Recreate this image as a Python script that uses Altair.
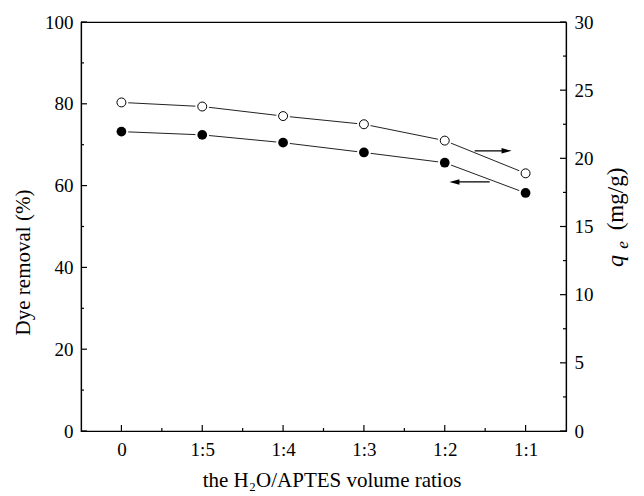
import altair as alt
import pandas as pd

# ---- data ----
categories = ["0", "1:5", "1:4", "1:3", "1:2", "1:1"]
positions = [0, 1, 2, 3, 4, 5]
dye_removal = [73.2, 72.4, 70.5, 68.1, 65.6, 58.2]      # left axis (%)
qe_values = [24.1, 23.8, 23.1, 22.5, 21.3, 18.9]        # right axis (mg/g)

# arrows pointing to each series' axis (in left-axis units)
arrow_tail_x = [4.37, 4.556]
arrow_head_x = [4.765, 4.12]
arrow_y = [68.5, 60.9]
arrow_shape = ["M -1 -0.55 L 1 0 L -1 0.55 Z", "M 1 -0.55 L -1 0 L 1 0.55 Z"]

x_minor = [0.5, 1.5, 2.5, 3.5, 4.5]
left_major = [0, 20, 40, 60, 80, 100]
left_minor = [10, 30, 50, 70, 90]
right_major = [0, 5, 10, 15, 20, 25, 30]
right_minor = [2.5, 7.5, 12.5, 17.5, 22.5, 27.5]

W, H = 485, 409
FONT = "Liberation Serif"
FS = 19
TFS = 21
MAJ, MIN = 6, 3

df = pd.DataFrame({"pos": positions, "cat": categories,
                   "removal": dye_removal, "qe": qe_values})
arrows = pd.DataFrame({"x0": arrow_tail_x, "x1": arrow_head_x, "y": arrow_y,
                       "shape": arrow_shape})

label_expr = ("datum.value % 1 === 0 ? " + str(categories) + "[datum.value] : ''")

xscale = alt.Scale(domain=[-0.5, 5.5], nice=False, zero=False)
yl_scale = alt.Scale(domain=[0, 100], nice=False)
yr_scale = alt.Scale(domain=[0, 30], nice=False)

common = dict(ticks=False, grid=False, domainColor="black", domainWidth=1.2,
              labelFont=FONT, labelFontSize=FS, labelColor="black",
              titleFont=FONT, titleFontSize=TFS, titleFontWeight="normal",
              titleColor="black")

x_axis = alt.Axis(values=positions, labelExpr=label_expr, labelPadding=9,
                  title="the H₂O/APTES volume ratios", titlePadding=10,
                  titleX=W / 2 + 8, **common)
yl_axis = alt.Axis(values=left_major, labelPadding=8,
                   title="Dye removal (%)", titlePadding=11, orient="left",
                   titleY=240, **common)
yr_axis = alt.Axis(values=right_major, labelPadding=8,
                   title="", orient="right", **common)


def X(field):
    return alt.X(field, scale=xscale, axis=x_axis, title="the H₂O/APTES volume ratios")


def YL(field):
    return alt.Y(field, scale=yl_scale, axis=yl_axis, title="Dye removal (%)")


def YR(field):
    return alt.Y(field, scale=yr_scale, axis=yr_axis, title="")


# ---- left series (filled) ----
l_line = alt.Chart(df).mark_line(color="#222", strokeWidth=1).encode(x=X("pos:Q"), y=YL("removal:Q"))
l_halo = alt.Chart(df).mark_point(shape="circle", filled=True, color="white",
                                  size=190, opacity=1).encode(x=X("pos:Q"), y=YL("removal:Q"))
l_pts = alt.Chart(df).mark_point(shape="circle", filled=True, color="black",
                                 size=95, opacity=1).encode(x=X("pos:Q"), y=YL("removal:Q"))

arr_rule = alt.Chart(arrows).mark_rule(color="black", strokeWidth=1.2).encode(
    x=X("x0:Q"), x2="x1:Q", y=YL("y:Q"))
arr_head = alt.Chart(arrows).mark_point(filled=True, color="black", size=100,
                                        opacity=1).encode(
    x=X("x1:Q"), y=YL("y:Q"),
    shape=alt.Shape("shape:N", scale=None, legend=None))

# ticks (inward) for left and bottom axes
lt_maj = alt.Chart(pd.DataFrame({"v": left_major})).mark_rule(color="black", strokeWidth=1.2).encode(
    y=YL("v:Q"), x=alt.value(0), x2=alt.value(MAJ))
lt_min = alt.Chart(pd.DataFrame({"v": left_minor})).mark_rule(color="black", strokeWidth=1.2).encode(
    y=YL("v:Q"), x=alt.value(0), x2=alt.value(MIN))
bt_maj = alt.Chart(pd.DataFrame({"v": positions})).mark_rule(color="black", strokeWidth=1.2).encode(
    x=X("v:Q"), y=alt.value(H), y2=alt.value(H - MAJ))
bt_min = alt.Chart(pd.DataFrame({"v": x_minor})).mark_rule(color="black", strokeWidth=1.2).encode(
    x=X("v:Q"), y=alt.value(H), y2=alt.value(H - MIN))

left = alt.layer(l_line, l_halo, l_pts, arr_rule, arr_head, lt_maj, lt_min, bt_maj, bt_min)

# ---- right series (open) ----
r_line = alt.Chart(df).mark_line(color="#222", strokeWidth=1).encode(x=X("pos:Q"), y=YR("qe:Q"))
r_halo = alt.Chart(df).mark_point(shape="circle", filled=True, color="white",
                                  size=190, opacity=1).encode(x=X("pos:Q"), y=YR("qe:Q"))
r_pts = alt.Chart(df).mark_point(shape="circle", filled=True, fill="white",
                                 stroke="black", strokeWidth=1, size=80,
                                 opacity=1).encode(x=X("pos:Q"), y=YR("qe:Q"))

rt_maj = alt.Chart(pd.DataFrame({"v": right_major})).mark_rule(color="black", strokeWidth=1.2).encode(
    y=YR("v:Q"), x=alt.value(W), x2=alt.value(W - MAJ))
rt_min = alt.Chart(pd.DataFrame({"v": right_minor})).mark_rule(color="black", strokeWidth=1.2).encode(
    y=YR("v:Q"), x=alt.value(W), x2=alt.value(W - MIN))

one = pd.DataFrame({"a": [0]})
t_q = alt.Chart(one).mark_text(angle=270, font=FONT, fontSize=24, fontStyle="italic",
                               align="center", baseline="alphabetic", color="black").encode(
    x=alt.value(W + 57), y=alt.value(239), text=alt.value("q"))
t_e = alt.Chart(one).mark_text(angle=270, font=FONT, fontSize=17, fontStyle="italic",
                               align="center", baseline="alphabetic", color="black").encode(
    x=alt.value(W + 62), y=alt.value(223), text=alt.value("e"))
t_unit = alt.Chart(one).mark_text(angle=270, font=FONT, fontSize=23,
                                  align="center", baseline="alphabetic", color="black").encode(
    x=alt.value(W + 57), y=alt.value(177), text=alt.value("(mg/g)"))

right = alt.layer(r_line, r_halo, r_pts, rt_maj, rt_min, t_q, t_e, t_unit)

chart = alt.layer(left, right).resolve_scale(y="independent").properties(
    width=W, height=H,
    background="white",
    autosize=alt.AutoSizeParams(type="none"),
    padding={"left": 81, "top": 22, "right": 78, "bottom": 65},
).configure(font=FONT).configure_view(stroke="black", strokeWidth=1.2).configure_axis(
    labelFont=FONT, titleFont=FONT)

chart.save("out.html", embed_options={"renderer": "svg", "actions": False})
